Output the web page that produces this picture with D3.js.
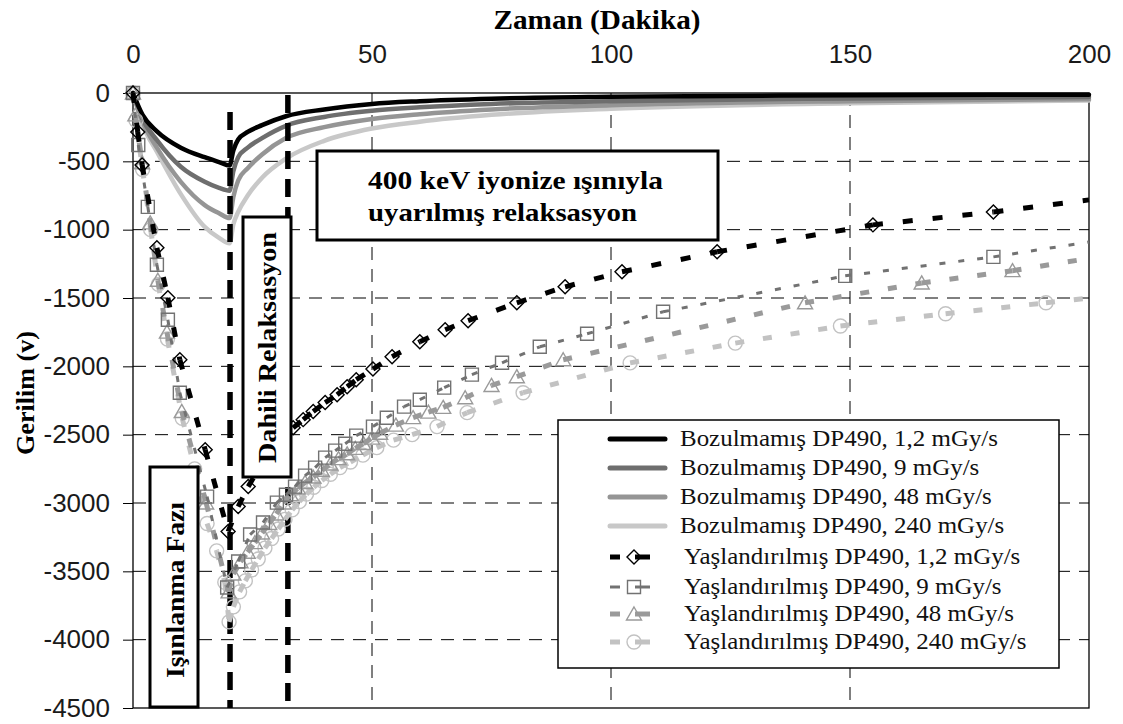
<!DOCTYPE html>
<html><head><meta charset="utf-8">
<script src="https://cdn.jsdelivr.net/npm/d3@7"></script>
<style>body{margin:0;background:#fff}svg{display:block}</style>
</head><body>
<svg id="c" width="1123" height="724"></svg>
<script>
// ---------- DATA ----------
const timeTicks = [0, 50, 100, 150, 200];
const voltTicks = [0, -500, -1000, -1500, -2000, -2500, -3000, -3500, -4000, -4500];
const phaseTimes = [20.3, 32.4];

// Bozulmamış (pristine) – continuous curves
const pristineT   = [0, 2, 5, 10, 15, 18, 20.2, 21, 22, 24, 27, 32, 40, 50, 60, 75, 100, 150, 200];
const pristine12  = [0, -160, -280, -400, -470, -505, -530, -420, -340, -285, -235, -170, -120, -80, -60, -42, -28, -17, -12];
const pristine9   = [0, -190, -345, -540, -650, -695, -715, -570, -470, -400, -330, -240, -175, -130, -105, -80, -60, -40, -30];
const pristine48  = [0, -210, -400, -650, -820, -880, -915, -760, -640, -550, -450, -330, -250, -190, -155, -120, -90, -60, -45];
const pristine240 = [0, -230, -430, -740, -980, -1060, -1100, -960, -870, -750, -620, -480, -350, -260, -210, -160, -115, -75, -55];

// Yaşlandırılmış (aged) – dashed lines with markers
const agedT12 = [0, 1.0, 1.9, 5.0, 7.3, 9.8, 15.1, 19.9, 22.0, 24.1, 26.5, 29.0, 31.5, 33.5, 35.6, 37.7, 40.2, 42.7, 44.8, 46.7, 50.2, 54.2, 60.0, 65.3, 70.1, 80.3, 90.4, 102.3, 122.2, 154.8, 180.0, 200];
const agedV12 = [0, -285, -526, -1133, -1498, -1952, -2610, -3209, -3026, -2880, -2740, -2620, -2520, -2450, -2390, -2330, -2265, -2208, -2150, -2098, -2020, -1930, -1820, -1732, -1666, -1535, -1418, -1308, -1162, -965, -870, -782];

const agedT9 = [0, 1.1, 3.1, 5.0, 7.3, 9.8, 15.5, 19.7, 22.0, 24.5, 27.2, 30.1, 32.0, 33.9, 36.0, 38.1, 40.2, 42.3, 44.4, 46.7, 50.2, 53.1, 56.7, 60.0, 65.1, 70.9, 77.2, 85.1, 95.0, 110.9, 149.0, 180.0, 200];
const agedV9 = [0, -380, -833, -1257, -1659, -2193, -2953, -3618, -3428, -3231, -3143, -2997, -2940, -2880, -2800, -2741, -2668, -2617, -2566, -2507, -2441, -2376, -2295, -2244, -2156, -2061, -1974, -1857, -1762, -1601, -1338, -1199, -1090];

const agedT48 = [0, 0.5, 1.9, 3.6, 5.2, 7.1, 10.2, 15.3, 20.0, 21.0, 22.5, 24.0, 25.5, 27.0, 28.5, 30.0, 31.5, 33.0, 34.5, 36.0, 37.7, 39.5, 41.3, 43.0, 44.8, 46.5, 48.2, 50.0, 51.7, 55.0, 58.6, 61.8, 64.9, 69.5, 75.0, 80.3, 90.0, 140.6, 165.0, 184.0, 200];
const agedV48 = [0, -160, -510, -950, -1370, -1750, -2330, -3000, -3650, -3520, -3430, -3360, -3290, -3220, -3150, -3080, -3000, -2940, -2890, -2850, -2810, -2760, -2715, -2675, -2640, -2600, -2565, -2525, -2490, -2430, -2375, -2335, -2300, -2230, -2140, -2076, -1952, -1535, -1390, -1300, -1210];

const agedT240 = [0, 0.6, 2.0, 3.7, 5.3, 7.2, 10.3, 12.9, 15.5, 17.5, 19.2, 20.1, 21.0, 22.3, 23.5, 24.8, 26.2, 27.6, 29.0, 30.4, 31.8, 33.3, 34.8, 36.3, 37.8, 39.5, 41.3, 43.3, 45.5, 48.1, 51.0, 54.5, 58.4, 63.6, 69.9, 81.6, 104, 126, 148, 170, 191, 200];
const agedV240 = [0, -200, -560, -1000, -1400, -1800, -2380, -2750, -3150, -3350, -3580, -3870, -3760, -3650, -3570, -3490, -3410, -3330, -3260, -3190, -3120, -3050, -2990, -2935, -2885, -2835, -2790, -2741, -2700, -2650, -2595, -2540, -2500, -2441, -2339, -2193, -1975, -1830, -1705, -1615, -1535, -1500];

const legendLabels = [
  "Bozulmamış DP490, 1,2 mGy/s", "Bozulmamış DP490, 9 mGy/s",
  "Bozulmamış DP490, 48 mGy/s", "Bozulmamış DP490, 240 mGy/s",
  "Yaşlandırılmış DP490, 1,2 mGy/s", "Yaşlandırılmış DP490, 9 mGy/s",
  "Yaşlandırılmış DP490, 48 mGy/s", "Yaşlandırılmış DP490, 240 mGy/s"
];
const xTitle = "Zaman (Dakika)";
const yTitle = "Gerilim (v)";
const boxText1 = ["400 keV iyonize ışınıyla", "uyarılmış relaksasyon"];
const boxText2 = "Dahili Relaksasyon";
const boxText3 = "Işınlanma Fazı";

// ---------- DRAW ----------
const SANS = "'Liberation Sans', Arial, sans-serif";
const SERIF = "'Liberation Serif', 'Times New Roman', serif";
const svg = d3.select('#c');
const x = d3.scaleLinear().domain([0, 200]).range([133, 1089]);
const y = d3.scaleLinear().domain([0, -4500]).range([93, 708]);

// grid
svg.append('g').selectAll('line').data(voltTicks.filter(v => v !== 0 && v !== -4500)).join('line')
  .attr('x1', x(0)).attr('x2', x(200)).attr('y1', d => y(d)).attr('y2', d => y(d))
  .attr('stroke', '#000').attr('stroke-width', 1).attr('stroke-dasharray', '13,9');
svg.append('g').selectAll('line').data(timeTicks.filter(t => t > 0 && t < 200)).join('line')
  .attr('y1', y(0)).attr('y2', y(-4500)).attr('x1', d => x(d)).attr('x2', d => x(d))
  .attr('stroke', '#000').attr('stroke-width', 1).attr('stroke-dasharray', '13,9');

// frame
svg.append('rect').attr('x', x(0)).attr('y', y(0)).attr('width', x(200) - x(0)).attr('height', y(-4500) - y(0))
  .attr('fill', 'none').attr('stroke', '#000').attr('stroke-width', 1.3);

// axes
const ay = svg.append('g').attr('transform', `translate(${x(0)},0)`)
  .call(d3.axisLeft(y).tickValues(voltTicks).tickSize(10).tickPadding(13).tickFormat(d => String(d)));
ay.select('.domain').remove();
ay.selectAll('line').attr('stroke', '#000');
ay.selectAll('text').attr('font-family', SANS).attr('font-size', 26).attr('fill', '#1a1a1a');
const ax = svg.append('g').attr('transform', `translate(0,${y(0)})`)
  .call(d3.axisTop(x).tickValues(timeTicks).tickSize(0).tickPadding(30).tickFormat(d => String(d)));
ax.select('.domain').remove();
ax.selectAll('text').attr('font-family', SANS).attr('font-size', 26).attr('fill', '#1a1a1a');

// titles
svg.append('text').attr('x', 597).attr('y', 29).attr('text-anchor', 'middle')
  .attr('font-family', SERIF).attr('font-weight', 'bold').attr('font-size', 28)
  .attr('textLength', 207).attr('lengthAdjust', 'spacingAndGlyphs').text(xTitle);
svg.append('text').attr('transform', 'translate(34,393) rotate(-90)').attr('text-anchor', 'middle')
  .attr('font-family', SERIF).attr('font-weight', 'bold').attr('font-size', 26)
  .attr('textLength', 124).attr('lengthAdjust', 'spacingAndGlyphs').text(yTitle);

// pristine curves
const pristine = [
  {v: pristine240, c: '#c8c8c8'}, {v: pristine48, c: '#959595'},
  {v: pristine9, c: '#6e6e6e'}, {v: pristine12, c: '#000'}
];
const lineGen = d3.line().x(d => x(d[0])).y(d => y(d[1])).curve(d3.curveMonotoneX);
pristine.forEach(s => {
  svg.append('path').attr('d', lineGen(pristineT.map((t, i) => [t, s.v[i]])))
    .attr('fill', 'none').attr('stroke', s.c).attr('stroke-width', 4.5)
    .attr('stroke-linejoin', 'round').attr('stroke-linecap', 'round');
});

// phase lines
svg.append('g').selectAll('line').data(phaseTimes).join('line')
  .attr('x1', d => x(d)).attr('x2', d => x(d))
  .attr('y1', (d, i) => i === 0 ? 112 : 95).attr('y2', y(-4500))
  .attr('stroke', '#000').attr('stroke-width', 5.5).attr('stroke-dasharray', '18,10');

// marker shapes
const shapes = {
  diamond: 'M0,-7L7,0L0,7L-7,0Z',
  square: 'M-6.5,-6.5H6.5V6.5H-6.5Z',
  triangle: 'M0,-7L7.5,6L-7.5,6Z',
  circle: 'M7,0A7,7 0 1,1 -7,0A7,7 0 1,1 7,0Z'
};
const aged = [
  {t: agedT240, v: agedV240, c: '#c2c2c2', w: 5, dash: '9,19', m: 'circle'},
  {t: agedT48, v: agedV48, c: '#9a9a9a', w: 5, dash: '9,19', m: 'triangle'},
  {t: agedT9, v: agedV9, c: '#727272', w: 3, dash: '6,13', m: 'square'},
  {t: agedT12, v: agedV12, c: '#000', w: 5, dash: '10,20', m: 'diamond'}
];
aged.forEach(s => {
  const pts = s.t.map((t, i) => [x(t), y(s.v[i])]);
  const g = svg.append('g');
  g.selectAll('line').data(d3.pairs(pts)).join('line')
    .attr('x1', d => d[0][0]).attr('y1', d => d[0][1]).attr('x2', d => d[1][0]).attr('y2', d => d[1][1])
    .attr('stroke', s.c).attr('stroke-width', s.w).attr('stroke-dasharray', s.dash);
  g.selectAll('path').data(pts.slice(0, -1)).join('path')
    .attr('d', shapes[s.m]).attr('transform', d => `translate(${d[0]},${d[1]})`)
    .attr('fill', 'none').attr('stroke', s.c).attr('stroke-width', 1.4);
});

// annotation boxes
function box(x0, y0, w, h) {
  svg.append('rect').attr('x', x0).attr('y', y0).attr('width', w).attr('height', h)
    .attr('fill', '#fff').attr('stroke', '#000').attr('stroke-width', 3);
}
box(317, 151, 401, 89);
svg.append('text').attr('x', 368).attr('y', 189).attr('font-family', SERIF).attr('font-weight', 'bold')
  .attr('font-size', 25).attr('textLength', 295).attr('lengthAdjust', 'spacingAndGlyphs').text(boxText1[0]);
svg.append('text').attr('x', 368).attr('y', 221).attr('font-family', SERIF).attr('font-weight', 'bold')
  .attr('font-size', 25).attr('textLength', 269).attr('lengthAdjust', 'spacingAndGlyphs').text(boxText1[1]);
box(243, 217, 48, 260);
svg.append('text').attr('transform', 'translate(276,463) rotate(-90)')
  .attr('font-family', SERIF).attr('font-weight', 'bold').attr('font-size', 25)
  .attr('textLength', 231).attr('lengthAdjust', 'spacingAndGlyphs').text(boxText2);
box(150, 467, 48, 240);
svg.append('text').attr('transform', 'translate(184,678) rotate(-90)')
  .attr('font-family', SERIF).attr('font-weight', 'bold').attr('font-size', 25)
  .attr('textLength', 176).attr('lengthAdjust', 'spacingAndGlyphs').text(boxText3);

// legend
svg.append('rect').attr('x', 558).attr('y', 420).attr('width', 501).attr('height', 248)
  .attr('fill', '#fff').attr('stroke', '#000').attr('stroke-width', 1.5);
const rowY = [446, 475, 504, 533, 564, 594, 621, 649];
const legendStyles = [
  {c: '#000'}, {c: '#6e6e6e'}, {c: '#959595'}, {c: '#c8c8c8'},
  aged[3], aged[2], aged[1], aged[0]
];
const lg = svg.append('g');
const texts = lg.selectAll('text').data(legendLabels).join('text')
  .attr('x', (d, i) => i < 4 ? 680 : 684).attr('y', (d, i) => rowY[i])
  .attr('font-family', SERIF).attr('font-size', 23).attr('fill', '#111').text(d => d);
const k = 318 / texts.nodes()[0].getComputedTextLength();
texts.each(function () {
  const w = this.getComputedTextLength();
  d3.select(this).attr('textLength', w * k).attr('lengthAdjust', 'spacingAndGlyphs');
});
legendStyles.forEach((s, i) => {
  const cy = rowY[i] - 7;
  if (i < 4) {
    lg.append('line').attr('x1', 610).attr('x2', 665).attr('y1', cy).attr('y2', cy)
      .attr('stroke', s.c).attr('stroke-width', 5).attr('stroke-linecap', 'round');
  } else {
    lg.append('line').attr('x1', 610).attr('x2', 620).attr('y1', cy).attr('y2', cy)
      .attr('stroke', s.c).attr('stroke-width', s.w);
    lg.append('line').attr('x1', 635).attr('x2', 650).attr('y1', cy).attr('y2', cy)
      .attr('stroke', s.c).attr('stroke-width', s.w);
    lg.append('path').attr('d', shapes[s.m]).attr('transform', `translate(634,${cy})`)
      .attr('fill', 'none').attr('stroke', s.c).attr('stroke-width', 1.4);
  }
});
</script>
</body></html>
